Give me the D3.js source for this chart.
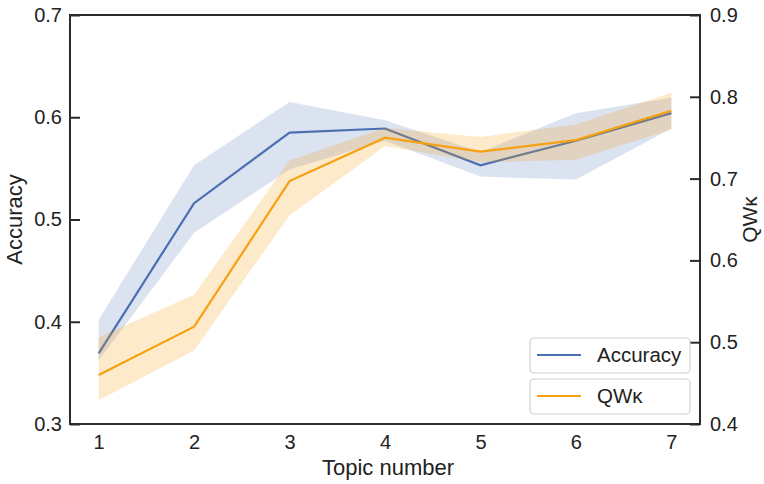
<!DOCTYPE html>
<html>
<head>
<meta charset="utf-8">
<script src="https://cdn.jsdelivr.net/npm/d3@7"></script>
<style>
  html, body { margin: 0; padding: 0; background: #fff; }
  svg { display: block; font-family: "Liberation Sans", Arial, Helvetica, sans-serif; }
</style>
</head>
<body>
<svg id="chart" width="764" height="484"></svg>
<script>
// ---- data ----
const topics   = [1, 2, 3, 4, 5, 6, 7];
const accuracy = [0.369, 0.516, 0.585, 0.589, 0.553, 0.577, 0.604];
const accLower = [0.362, 0.487, 0.549, 0.577, 0.542, 0.539, 0.589];
const accUpper = [0.402, 0.553, 0.615, 0.597, 0.566, 0.604, 0.619];
const qwk      = [0.460, 0.519, 0.697, 0.750, 0.733, 0.747, 0.783];
const qwkLower = [0.429, 0.490, 0.655, 0.740, 0.720, 0.723, 0.760];
const qwkUpper = [0.506, 0.558, 0.722, 0.762, 0.751, 0.766, 0.805];
const leftTicks  = [0.3, 0.4, 0.5, 0.6, 0.7];
const rightTicks = [0.4, 0.5, 0.6, 0.7, 0.8, 0.9];
const seriesNames = ["Accuracy", "QWκ"];

const blue = "#4a70b2", orange = "#f6a012", frame = "#2b2b2b";
const svg = d3.select("#chart");
const m = {left: 70, right: 64, top: 15, bottom: 60};
const W = 764, H = 484;
const x = d3.scaleLinear().domain([0.7, 7.3]).range([m.left, W - m.right]);
const yL = d3.scaleLinear().domain([0.3, 0.7]).range([H - m.bottom, m.top]);
const yR = d3.scaleLinear().domain([0.4, 0.9]).range([H - m.bottom, m.top]);

const rows = topics.map((t, i) => ({t, a: accuracy[i], al: accLower[i], au: accUpper[i],
  q: qwk[i], ql: qwkLower[i], qu: qwkUpper[i]}));

const plot = svg.append("g");
plot.append("path").datum(rows)
  .attr("d", d3.area().x(d => x(d.t)).y0(d => yL(d.al)).y1(d => yL(d.au)))
  .attr("fill", blue).attr("fill-opacity", 0.2);
plot.append("path").datum(rows)
  .attr("d", d3.line().x(d => x(d.t)).y(d => yL(d.a)))
  .attr("fill", "none").attr("stroke", blue).attr("stroke-width", 2.2);
plot.append("path").datum(rows)
  .attr("d", d3.area().x(d => x(d.t)).y0(d => yR(d.ql)).y1(d => yR(d.qu)))
  .attr("fill", orange).attr("fill-opacity", 0.22);
plot.append("path").datum(rows)
  .attr("d", d3.line().x(d => x(d.t)).y(d => yR(d.q)))
  .attr("fill", "none").attr("stroke", orange).attr("stroke-width", 2.2);

// axes
const fs = 20;
const gx = svg.append("g").attr("transform", `translate(0,${H - m.bottom})`)
  .call(d3.axisBottom(x).tickValues(topics).tickFormat(d3.format("d")).tickSize(0).tickPadding(11));
const gl = svg.append("g").attr("transform", `translate(${m.left},0)`)
  .call(d3.axisLeft(yL).tickValues(leftTicks).tickFormat(d3.format(".1f")).tickSize(-10).tickPadding(8));
const gr = svg.append("g").attr("transform", `translate(${W - m.right},0)`)
  .call(d3.axisRight(yR).tickValues(rightTicks).tickFormat(d3.format(".1f")).tickSize(-10).tickPadding(10));
[gx, gl, gr].forEach(g => {
  g.selectAll(".domain").remove();
  g.selectAll("text").attr("font-size", fs).attr("fill", "#222").attr("font-family", null);
  g.selectAll("line").attr("stroke", frame).attr("stroke-width", 2);
});
gx.selectAll("text").attr("dy", "0.71em");

// frame
svg.append("rect").attr("x", m.left).attr("y", m.top)
  .attr("width", W - m.left - m.right).attr("height", H - m.top - m.bottom)
  .attr("fill", "none").attr("stroke", frame).attr("stroke-width", 2);

// axis titles
svg.append("text").attr("x", 388).attr("y", 475)
  .attr("text-anchor", "middle").attr("font-size", 22).attr("fill", "#222").text("Topic number");
svg.append("text").attr("transform", `translate(22,${(m.top + H - m.bottom) / 2}) rotate(-90)`)
  .attr("text-anchor", "middle").attr("font-size", 22).attr("fill", "#222").text("Accuracy");
svg.append("text").attr("transform", `translate(757,${(m.top + H - m.bottom) / 2}) rotate(-90)`)
  .attr("text-anchor", "middle").attr("font-size", 21).attr("fill", "#222").text("QWκ");

// legends (two separate boxes)
const legColors = [blue, orange];
const legTop = [338, 379];
seriesNames.forEach((name, i) => {
  const g = svg.append("g").attr("transform", `translate(530,${legTop[i]})`);
  g.append("rect").attr("width", 160).attr("height", 35).attr("rx", 4)
    .attr("fill", "#fff").attr("fill-opacity", 0.85).attr("stroke", "#d0d0d0").attr("stroke-width", 1.2);
  g.append("line").attr("x1", 7).attr("x2", 51).attr("y1", 17).attr("y2", 17)
    .attr("stroke", legColors[i]).attr("stroke-width", 2.2);
  g.append("text").attr("x", 67).attr("y", 24).attr("font-size", 20.5).attr("fill", "#222").text(name);
});
</script>
</body>
</html>
